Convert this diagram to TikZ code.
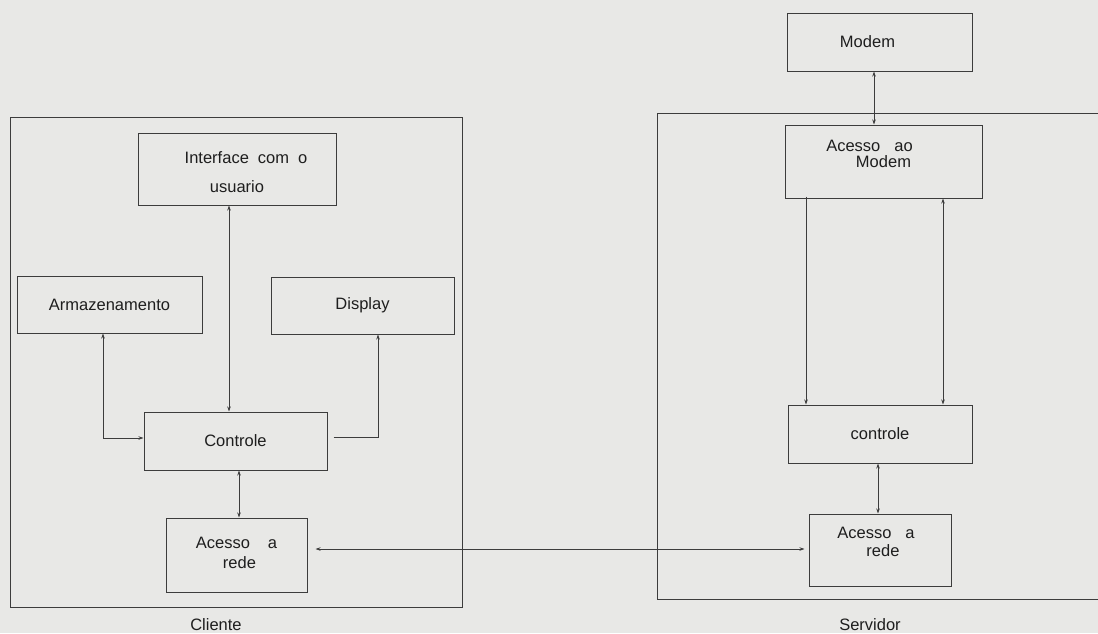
\documentclass[tikz,border=0pt]{standalone}
\usepackage{fontspec}
\setmainfont{Liberation Sans}
\usetikzlibrary{arrows.meta}
\definecolor{bgc}{RGB}{232,232,230}
\definecolor{linec}{RGB}{60,60,60}
\definecolor{textc}{RGB}{30,30,30}
\newcommand{\boxtext}[2]{\raisebox{#1}[\height][\depth]{\begin{tabular}{@{}c@{}}#2\end{tabular}}}
\begin{document}
\begin{tikzpicture}[x=1pt,y=-1pt,
  boxnode/.style={draw=linec, line width=1pt, inner sep=0pt, align=center,
    font=\fontsize{16.5}{19}\selectfont, text=textc},
  frame/.style={draw=linec, line width=1pt},
  lbl/.style={font=\fontsize{16.5}{19}\selectfont, text=textc, inner sep=0pt},
  link/.style={draw=linec, line width=0.9pt, >={Stealth[length=5pt,width=3.5pt]}}
]
\fill[bgc] (0,0) rectangle (1098,633);
\useasboundingbox (0,0) rectangle (1098,633);

% Cliente
\draw[frame] (10,117) rectangle (462,607);
\node[lbl] (cliente) at (216,625) {Cliente};
\node[boxnode, minimum width=198pt, minimum height=72pt] (iface) at (237,169)
  {\boxtext{-5pt}{\hspace{18pt}Interface\hspace{9pt}com\hspace{9pt}o\\[10pt]usuario}};
\node[boxnode, minimum width=185pt, minimum height=57pt] (arm) at (109.5,304.5) {Armazenamento};
\node[boxnode, minimum width=183pt, minimum height=57pt] (disp) at (362.5,305.5) {Display};
\node[boxnode, minimum width=183pt, minimum height=58pt] (ctrl) at (235.5,441) {Controle};
\node[boxnode, minimum width=141pt, minimum height=74pt] (crede) at (236.5,555)
  {\boxtext{0pt}{Acesso\hspace{18pt}a\\[1pt]\hspace{6pt}rede}};

% Servidor
\draw[frame] (1098,113) -- (657,113) -- (657,599) -- (1098,599);
\node[lbl] (servidor) at (870,625) {Servidor};
\node[boxnode, minimum width=185pt, minimum height=58pt] (modem) at (879.5,42)
  {\boxtext{-2pt}{Modem\hspace{24pt}\null}};
\node[boxnode, minimum width=197pt, minimum height=73pt] (amodem) at (883.5,161.5)
  {\boxtext{6pt}{Acesso\hspace{14pt}ao\hspace{28pt}\null\\[-3pt]Modem}};
\node[boxnode, minimum width=184pt, minimum height=58pt] (sctrl) at (880,434) {controle};
\node[boxnode, minimum width=142pt, minimum height=72pt] (srede) at (880,550)
  {\boxtext{6pt}{Acesso\hspace{14pt}a\hspace{8pt}\null\\[-1pt]\hspace{6pt}rede}};

% Cliente connectors
\draw[link,<->] (229,0 |- iface.south) -- (229,0 |- ctrl.north);
\draw[link,<->] (103,0 |- arm.south) -- (103,438) -- (ctrl.west |- 0,438);
\draw[link,->] ([xshift=6pt]ctrl.east |- 0,437) -- (378,437) -- (378,0 |- disp.south);
\draw[link,<->] (239,0 |- ctrl.south) -- (239,0 |- crede.north);
\draw[link,<->] ([xshift=8pt]crede.east |- 0,549) -- ([xshift=-4pt]srede.west |- 0,549);

% Servidor connectors
\draw[link,<->] (874,0 |- modem.south) -- (874,0 |- amodem.north);
\draw[link,->] ([yshift=2pt]806,0 |- amodem.south) -- (806,0 |- sctrl.north);
\draw[link,<->] (943,0 |- amodem.south) -- (943,0 |- sctrl.north);
\draw[link,<->] (878,0 |- sctrl.south) -- (878,0 |- srede.north);
\end{tikzpicture}
\end{document}
